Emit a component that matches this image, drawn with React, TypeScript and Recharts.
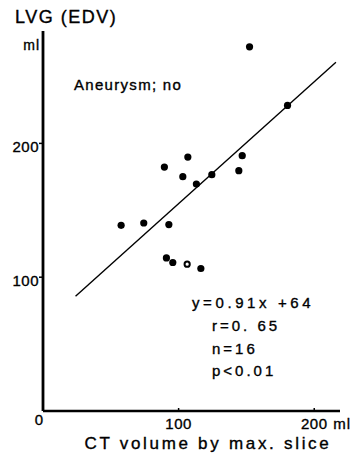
import { ScatterChart, Scatter, XAxis, YAxis, ReferenceLine } from 'recharts'

// CT volume (x) vs LVG end-diastolic volume (y), ml
const ctVolume = [57.6, 74.3, 92.8, 89.5, 106.8, 103.1, 113.1, 124.5, 144.4, 146.9, 91, 95.7, 116.4, 152.3, 180.3]
const lvgEdv = [138.8, 140.5, 139.3, 182.3, 189.8, 175.1, 169.6, 176.6, 179.6, 190.8, 114.4, 111, 106.5, 272.2, 228.4]

// the one open circle
const openCt = [106.3]
const openLvg = [109.7]

// regression y = 0.91x + 64, drawn between these ends
const fitX = [24, 216]
const fitY = [85.8, 260.6]

const xTicks = [0, 100, 200]
const yTicks = [100, 200]

const statLines = ['y=0.91x +64', 'r=0. 65', 'n=16', 'p<0.01']

const FONT = '"Liberation Sans", Arial, sans-serif'
// the scanned lettering is a bit heavier than plain regular
const ink = { fill: '#000', stroke: '#000', strokeWidth: 0.35 }

document.body.style.margin = '0'

const points = ctVolume.map((x, i) => ({ x, y: lvgEdv[i] }))
const openPoints = openCt.map((x, i) => ({ x, y: openLvg[i] }))

const Dot = (props: any) => <circle cx={props.cx} cy={props.cy} r={3.6} fill="#000" />
const OpenDot = (props: any) => (
  <circle cx={props.cx} cy={props.cy} r={2.6} fill="#fff" stroke="#000" strokeWidth={2} />
)

const XTick = ({ x, y, payload }: any) => {
  const v = payload.value
  if (v === 0) {
    return (
      <text x={x - 4} y={y + 14} textAnchor="middle" fontSize={15} fontFamily={FONT} {...ink}>
        0
      </text>
    )
  }
  return (
    <g>
      <line x1={x} y1={y} x2={x} y2={y - 3} stroke="#000" strokeWidth={1.5} />
      <text x={x} y={y + 18} textAnchor="middle" fontSize={15} fontFamily={FONT} letterSpacing={0.5} {...ink}>
        {v}
      </text>
      {v === 200 && (
        <text x={x + 19} y={y + 18} fontSize={15} fontFamily={FONT} letterSpacing={1} {...ink}>
          ml
        </text>
      )}
    </g>
  )
}

const YTick = ({ x, y, payload }: any) => (
  <g>
    <line x1={x - 4} y1={y} x2={x} y2={y} stroke="#000" strokeWidth={1.5} />
    <text x={x - 4} y={y + 9} textAnchor="end" fontSize={15} fontFamily={FONT} letterSpacing={0.5} {...ink}>
      {payload.value}
    </text>
  </g>
)

export default function App() {
  return (
    <div style={{ position: 'relative', width: 362, height: 453, background: '#fff' }}>
      <ScatterChart width={362} height={453} margin={{ top: 31, right: 22, bottom: 0, left: 0 }}>
        <XAxis
          type="number"
          dataKey="x"
          domain={[0, 219]}
          ticks={xTicks}
          height={42}
          tickSize={0}
          tickMargin={0}
          tickLine={false}
          tick={<XTick />}
          axisLine={{ stroke: '#000', strokeWidth: 2.5 }}
          allowDataOverflow
        />
        <YAxis
          type="number"
          dataKey="y"
          domain={[0, 284]}
          ticks={yTicks}
          width={43}
          tickSize={0}
          tickMargin={0}
          tickLine={false}
          tick={<YTick />}
          axisLine={{ stroke: '#000', strokeWidth: 2.8 }}
          allowDataOverflow
        />
        <ReferenceLine
          segment={[
            { x: fitX[0], y: fitY[0] },
            { x: fitX[1], y: fitY[1] },
          ]}
          stroke="#000"
          strokeWidth={1.4}
          ifOverflow="visible"
        />
        <Scatter data={points} shape={<Dot />} isAnimationActive={false} />
        <Scatter data={openPoints} shape={<OpenDot />} isAnimationActive={false} />
      </ScatterChart>
      <svg width={362} height={453} style={{ position: 'absolute', left: 0, top: 0, pointerEvents: 'none' }}>
        <text x={15} y={23} fontSize={18} fontFamily={FONT} letterSpacing={1.5} {...ink}>
          LVG (EDV)
        </text>
        <text x={40} y={50} textAnchor="end" fontSize={14} fontFamily={FONT} letterSpacing={1} {...ink}>
          ml
        </text>
        <text x={74} y={90} fontSize={15} fontFamily={FONT} letterSpacing={1.3} {...ink}>
          Aneurysm; no
        </text>
        {statLines.map((s, i) => (
          <text
            key={s}
            x={i === 0 ? 192 : 212}
            y={[308, 331, 354, 376][i]}
            fontSize={15}
            fontFamily={FONT}
            letterSpacing={i === 0 ? 3.6 : 3}
            {...ink}
          >
            {s}
          </text>
        ))}
        <text x={208} y={449} textAnchor="middle" fontSize={17} fontFamily={FONT} letterSpacing={2.7} {...ink}>
          CT volume by max. slice
        </text>
      </svg>
    </div>
  )
}
